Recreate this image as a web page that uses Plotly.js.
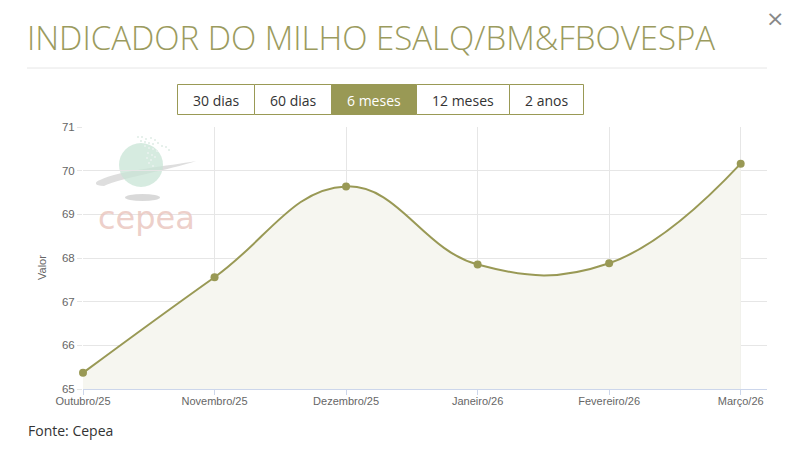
<!DOCTYPE html>
<html>
<head>
<meta charset="utf-8">
<script src="https://cdn.plot.ly/plotly-3.0.1.min.js"></script>
<style>
html,body{margin:0;padding:0;background:#fff;}
#chart{width:790px;height:453px;}
</style>
</head>
<body>
<div id="chart"></div>
<script>
// Data
var categories = ["Outubro/25", "Novembro/25", "Dezembro/25", "Janeiro/26", "Fevereiro/26", "Março/26"];
var values = [65.37, 67.56, 69.64, 67.85, 67.88, 70.16];
var yTicks = [65, 66, 67, 68, 69, 70, 71];
var periodButtons = ["30 dias", "60 dias", "6 meses", "12 meses", "2 anos"];
var activeButton = "6 meses";
var chartTitle = "INDICADOR DO MILHO ESALQ/BM&FBOVESPA";
var sourceText = "Fonte: Cepea";

// Layout helpers (pixel -> paper)
var W = 790, H = 453, ML = 83, MR = 23, MT = 127, MB = 64;
var PW = W - ML - MR, PH = H - MT - MB;
function px(x){ return (x - ML) / PW; }
function py(y){ return (H - MB - y) / PH; }

var olive = "rgb(153,153,85)";

var trace = {
  x: categories.map(function(c, i){ return i; }),
  y: values,
  type: "scatter",
  mode: "lines+markers",
  line: {color: olive, width: 2, shape: "spline", smoothing: 1.2},
  marker: {color: olive, size: 8},
  fill: "tozeroy",
  fillcolor: "rgba(246,246,240,1)",
  cliponaxis: false,
  hoverinfo: "x+y"
};

var shapes = [];
var annotations = [];

// separator under title
shapes.push({type: "line", xref: "paper", yref: "paper", x0: px(27), x1: px(767), y0: py(68), y1: py(68),
  line: {color: "#e6e6e6", width: 1}});

// period buttons
var edges = [177.5, 254.5, 331.5, 416.5, 509.5, 583.5];
for (var i = 0; i < periodButtons.length; i++) {
  var act = periodButtons[i] === activeButton;
  shapes.push({type: "rect", xref: "paper", yref: "paper",
    x0: px(edges[i]), x1: px(edges[i+1]), y0: py(114.5), y1: py(84.5),
    fillcolor: act ? olive : "#ffffff", line: {color: olive, width: 1}});
  annotations.push({xref: "paper", yref: "paper", x: px((edges[i] + edges[i+1]) / 2), y: py(100),
    text: periodButtons[i], showarrow: false, xanchor: "center", yanchor: "middle",
    font: {family: "Open Sans", size: 14, color: act ? "#ffffff" : "#333333"}});
}

// title
annotations.push({xref: "paper", yref: "paper", x: px(25), y: py(37), xanchor: "left", yanchor: "middle",
  text: chartTitle, showarrow: false, font: {family: "Open Sans", size: 33, weight: 300, color: "#9b9b5e"}});
// close
annotations.push({xref: "paper", yref: "paper", x: px(775), y: py(18), xanchor: "center", yanchor: "middle",
  text: "×", showarrow: false, font: {family: "DejaVu Sans", size: 22, color: "#888888"}});
// source
annotations.push({xref: "paper", yref: "paper", x: px(26), y: py(430), xanchor: "left", yanchor: "middle",
  text: sourceText, showarrow: false, font: {family: "Open Sans", size: 14, color: "#333333"}});
// y axis title
annotations.push({xref: "paper", yref: "paper", x: px(42), y: py(268), xanchor: "center", yanchor: "middle",
  text: "Valor", textangle: -90, showarrow: false, font: {family: "Liberation Sans", size: 11, color: "#666666"}});

// watermark logo (decorative)
shapes.push({type: "path", xref: "paper", yref: "paper", layer: "below",
  path: "M " + px(100) + "," + py(180) + " C " + px(120) + "," + py(170) + " " + px(170) + "," + py(166) + " " + px(196) + "," + py(161) +
        " C " + px(170) + "," + py(170) + " " + px(120) + "," + py(178) + " " + px(104) + "," + py(186) +
        " C " + px(94) + "," + py(186) + " " + px(94) + "," + py(182) + " " + px(100) + "," + py(180) + " Z",
  fillcolor: "rgba(200,200,200,0.6)", line: {width: 0}});
shapes.push({type: "circle", xref: "paper", yref: "paper", layer: "below",
  x0: px(119), x1: px(163), y0: py(187), y1: py(143),
  fillcolor: "rgba(200,228,214,0.75)", line: {width: 0}});
shapes.push({type: "circle", xref: "paper", yref: "paper", layer: "below",
  x0: px(125), x1: px(160), y0: py(201), y1: py(194),
  fillcolor: "rgba(170,170,170,0.45)", line: {width: 0}});
var dots = [[137,136],[141,136],[145,138],[150,137],[154,139],[140,140],[144,141],[148,142],[152,143],[157,142],[161,145],[144,145],[148,147],[152,148],[156,150],[147,152],[151,154],[146,157],[150,159],[154,156],[148,162],[152,165],[165,146],[168,149]];
dots.forEach(function(d){
  shapes.push({type: "rect", xref: "paper", yref: "paper", layer: "below",
    x0: px(d[0]), x1: px(d[0] + 2), y0: py(d[1] + 2), y1: py(d[1]),
    fillcolor: "rgba(230,240,235,0.95)", line: {width: 0}});
});
annotations.push({xref: "paper", yref: "paper", x: px(146), y: py(218), xanchor: "center", yanchor: "middle",
  text: "cepea", showarrow: false, font: {family: "DejaVu Sans", size: 32, color: "rgba(233,196,188,0.8)"}});

var layout = {
  width: W, height: H,
  margin: {l: ML, r: MR, t: MT, b: MB, pad: 0},
  paper_bgcolor: "#ffffff", plot_bgcolor: "#ffffff",
  showlegend: false,
  font: {family: "Liberation Sans", size: 11, color: "#666666"},
  xaxis: {
    range: [0, 5.2], tickvals: categories.map(function(c, i){ return i; }), ticktext: categories,
    showgrid: true, gridcolor: "#e6e6e6", zeroline: false,
    showline: true, linecolor: "#ccd6eb", linewidth: 1,
    ticks: "outside", ticklen: 5, tickcolor: "#ccd6eb", ticklabelstandoff: -3,
    tickfont: {family: "Liberation Sans", size: 11, color: "#666666"},
    fixedrange: true
  },
  yaxis: {
    range: [65, 71], tickvals: yTicks,
    showgrid: true, gridcolor: "#e6e6e6", zeroline: false,
    showline: false, ticks: "outside", ticklen: 5, tickcolor: "#e6e6e6",
    tickfont: {family: "Liberation Sans", size: 11.5, color: "#666666"},
    fixedrange: true
  },
  shapes: shapes,
  annotations: annotations
};

Plotly.newPlot("chart", [trace], layout, {displayModeBar: false, staticPlot: false});
</script>
</body>
</html>
